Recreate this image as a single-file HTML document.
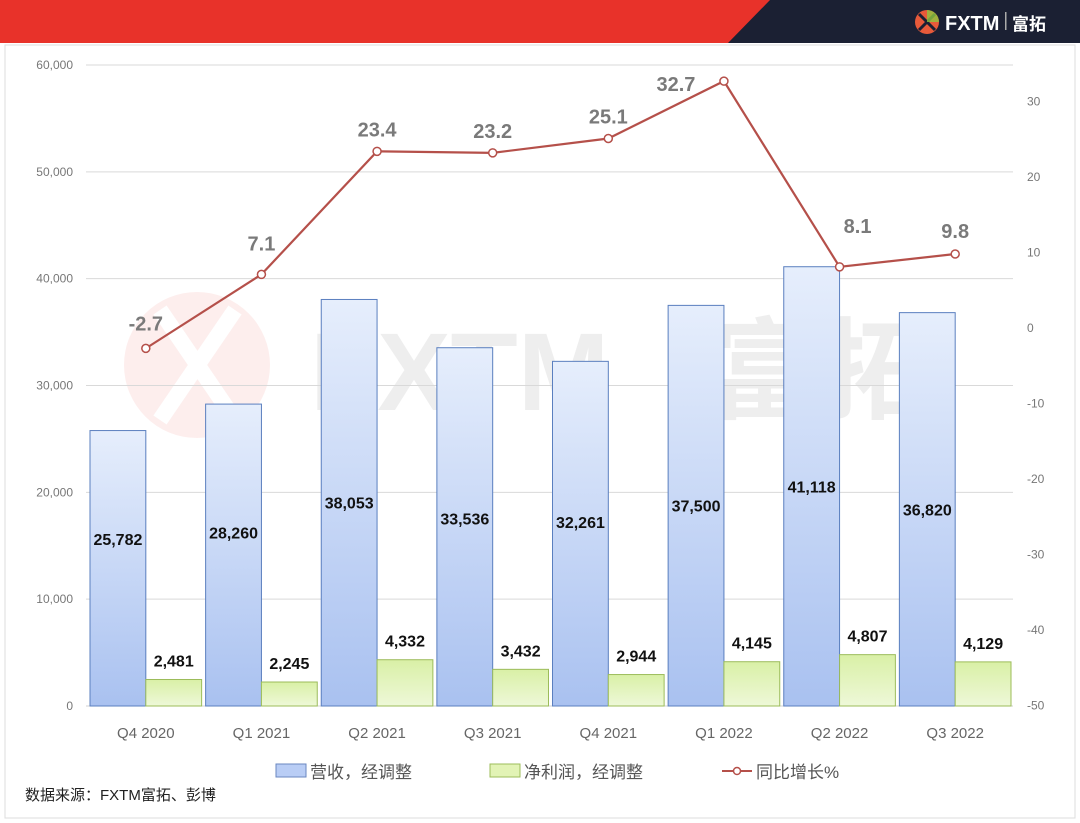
<!DOCTYPE html>
<html><head><meta charset="utf-8">
<style>
body{margin:0;background:#fff;}
svg{display:block;font-family:"Liberation Sans","Noto Sans CJK SC",sans-serif;}
</style></head>
<body>
<svg id="chart" width="1080" height="823" viewBox="0 0 1080 823">
  <rect width="1080" height="823" fill="#fff"/>
  <g>
    <rect x="0" y="0" width="1080" height="43" fill="#e8322a"/>
    <polygon points="770,0 1080,0 1080,43 728,43" fill="#1b2033"/>
    <g>
      <circle cx="927" cy="22" r="12" fill="#e85a3a"/>
      <path d="M919 14 L935 30 M935 14 L919 30" stroke="#1b2033" stroke-width="3"/>
      <path d="M927 10 A12 12 0 0 1 939 22 L927 22 Z" fill="#8dc63f" opacity="0.8"/>
      <text x="945" y="30" font-size="20" fill="#fff" font-weight="bold">FXTM</text>
      <rect x="1005" y="12" width="1.5" height="18" fill="#aaa"/>
      <text x="1012" y="30" font-size="17" fill="#fff" font-weight="bold">富拓</text>
    </g>
  </g>
  <rect x="5" y="45" width="1070" height="773" fill="none" stroke="#ddd"/>
  <g opacity="0.08">
    <circle cx="197" cy="365" r="73" fill="#e8322a"/>
    <path d="M160 310 L235 420 M235 310 L160 420" stroke="#fff" stroke-width="16"/>
    <text x="310" y="410" font-size="110" font-weight="bold" fill="#333">FXTM</text>
    <text x="710" y="410" font-size="110" font-weight="bold" fill="#333">富拓</text>
  </g>
  <g id="grid"></g>
  <g id="bars"></g>
  <g id="line"></g>
  <g id="labels"></g>
  <g font-size="17" fill="#555">
    <g>
      <rect x="276" y="764" width="30" height="13" fill="#b9cdf5" stroke="#6a87c0"/>
      <text x="310" y="778">营收，经调整</text>
    </g>
    <g>
      <rect x="490" y="764" width="30" height="13" fill="#e2f3b5" stroke="#9cbc5a"/>
      <text x="524" y="778">净利润，经调整</text>
    </g>
    <g>
      <line x1="722" y1="771" x2="752" y2="771" stroke="#b5504a" stroke-width="2"/>
      <circle cx="737" cy="771" r="3.5" fill="#fff" stroke="#b5504a" stroke-width="1.5"/>
      <text x="756" y="778">同比增长%</text>
    </g>
  </g>
  <text x="25" y="800" font-size="15" fill="#222">数据来源：FXTM富拓、彭博</text>
</svg>
<script>
const categories=["Q4 2020","Q1 2021","Q2 2021","Q3 2021","Q4 2021","Q1 2022","Q2 2022","Q3 2022"];
const revenue=[25782,28260,38053,33536,32261,37500,41118,36820];
const profit=[2481,2245,4332,3432,2944,4145,4807,4129];
const yoy=[-2.7,7.1,23.4,23.2,25.1,32.7,8.1,9.8];
const leftTicks=[0,10000,20000,30000,40000,50000,60000];
const rightTicks=[-50,-40,-30,-20,-10,0,10,20,30];

const NS="http://www.w3.org/2000/svg";
const X0=88,X1=1013,Y0=706;
const yL=v=>Y0-v*(641/60000);
const yR=v=>328-v*7.55;
const bw=(X1-X0)/categories.length;
const xc=i=>X0+bw*(i+0.5);
function mk(tag,attrs,parent,txt){const e=document.createElementNS(NS,tag);for(const k in attrs)e.setAttribute(k,attrs[k]);if(txt!==undefined)e.textContent=txt;parent.appendChild(e);return e;}
const fmt=v=>v.toLocaleString("en-US");
const grid=document.getElementById("grid"),bars=document.getElementById("bars"),line=document.getElementById("line"),labels=document.getElementById("labels");

leftTicks.forEach(t=>{
  if(t>0){const g=mk("line",{x1:86,x2:X1,y1:yL(t),y2:yL(t),stroke:"#d9d9d9","stroke-width":1},grid);
  
  }
  const l=mk("text",{x:73,y:yL(t)+4,"font-size":12,fill:"#777","text-anchor":"end"},grid,fmt(t));
  
  
});
rightTicks.forEach(t=>{
  const l=mk("text",{x:1027,y:yR(t)+4,"font-size":12,fill:"#777"},grid,String(t));
  
  
});
const ax=mk("line",{x1:86,x2:X1,y1:Y0,y2:Y0,stroke:"#d0d0d0"},grid);



const defs=mk("defs",{},bars);
const gr=mk("linearGradient",{id:"gb",x1:0,y1:0,x2:0,y2:1},defs);
mk("stop",{offset:"0","stop-color":"#e6eefc"},gr);mk("stop",{offset:"1","stop-color":"#a9c1f0"},gr);
const gg=mk("linearGradient",{id:"gg",x1:0,y1:0,x2:0,y2:1},defs);
mk("stop",{offset:"0","stop-color":"#d9f0a6"},gg);mk("stop",{offset:"1","stop-color":"#eef8d8"},gg);

categories.forEach((c,i)=>{
  const x=X0+bw*i;
  const r=mk("rect",{x:x+2,y:yL(revenue[i]),width:bw/2-2,height:Y0-yL(revenue[i]),fill:"url(#gb)",stroke:"#5a7fbf","stroke-width":1},bars);
  
  
  const p=mk("rect",{x:x+bw/2,y:yL(profit[i]),width:bw/2-2,height:Y0-yL(profit[i]),fill:"url(#gg)",stroke:"#9cbc5a","stroke-width":1},bars);
  
  
  const mid=(yL(revenue[i])+Y0)/2;
  const ly=mid<510?mid:510+(mid-510)*0.5;
  const rl=mk("text",{x:x+2+(bw/2-2)/2,y:ly+6,"font-size":16,"font-weight":"bold",fill:"#111","text-anchor":"middle"},labels,fmt(revenue[i]));
  
  
  const pl=mk("text",{x:x+bw/2+(bw/2-2)/2,y:yL(profit[i])-13,"font-size":16,"font-weight":"bold",fill:"#111","text-anchor":"middle"},labels,fmt(profit[i]));
  
  
  const cl=mk("text",{x:xc(i),y:738,"font-size":15,fill:"#666","text-anchor":"middle"},labels,c);
  
  
});

const pts=yoy.map((v,i)=>xc(i)+","+yR(v)).join(" ");
const pl=mk("polyline",{points:pts,fill:"none",stroke:"#b5504a","stroke-width":2.2},line);


const offX=[0,0,0,0,0,-48,18,0];
const offY=[-18,-24,-15,-15,-15,10,-34,-16];
yoy.forEach((v,i)=>{
  const c=mk("circle",{cx:xc(i),cy:yR(v),r:4,fill:"#fff",stroke:"#b5504a","stroke-width":1.5},line);
  
  
  const t=mk("text",{x:xc(i)+offX[i],y:yR(v)+offY[i],"font-size":20,"font-weight":"bold",fill:"#7a7a7a","text-anchor":"middle"},labels,v.toFixed(1));
  
  
});
</script>
</body></html>
